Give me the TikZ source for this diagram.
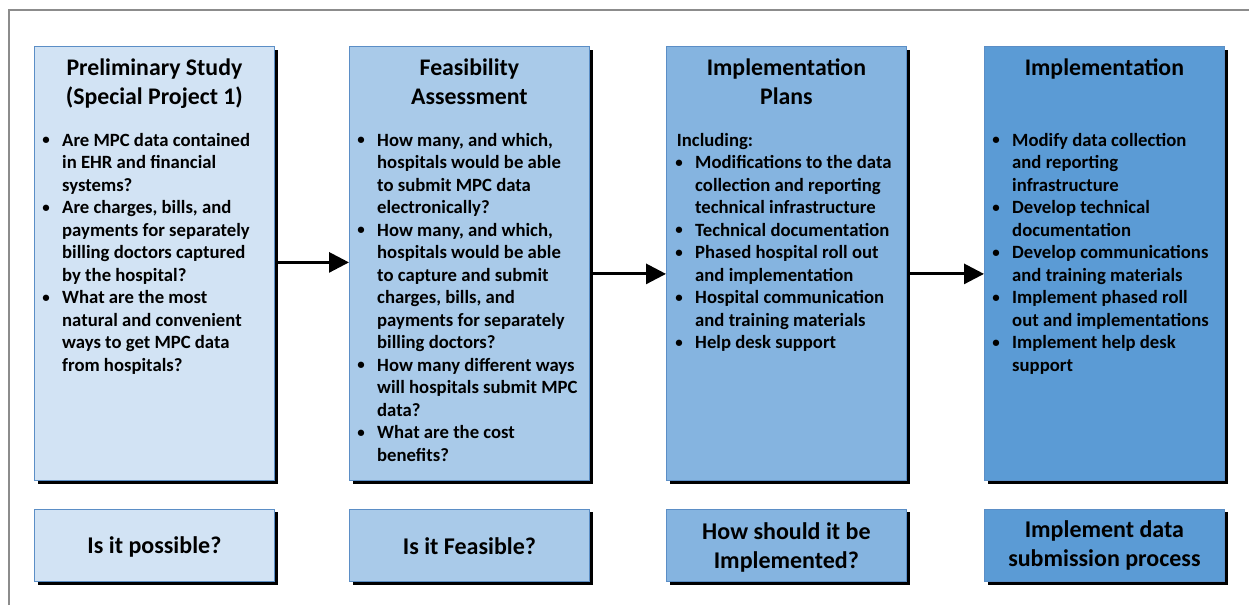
\documentclass[tikz,border=0pt]{standalone}
\usepackage{fontspec}
\usepackage{graphicx}
\setmainfont{Carlito}
\usetikzlibrary{arrows.meta,shadows,calc}

\definecolor{framegray}{HTML}{8C8C8C}
\definecolor{edgeblue}{HTML}{5B8EC6}
\definecolor{stageA}{HTML}{D2E3F4}
\definecolor{stageB}{HTML}{A9CAE9}
\definecolor{stageC}{HTML}{85B4E0}
\definecolor{stageD}{HTML}{5B9BD5}

\newlength\bulgap
\setlength\bulgap{16pt}
% bullet centred on the line start, text after a fixed gap
\newcommand\bl{\makebox[0pt]{\raisebox{1.2pt}{\scalebox{0.8}{\textbullet}}}\hspace*{\bulgap}}
\newcommand\ind{\hspace*{\bulgap}}

\tikzset{
  stagebox/.style={draw=edgeblue, line width=0.8pt, anchor=north west,
    minimum width=240pt, inner sep=0pt,
    drop shadow={shadow xshift=3.5pt, shadow yshift=-3.5pt, fill=black, opacity=1}},
  tallbox/.style={stagebox, minimum height=434pt},
  shortbox/.style={stagebox, minimum height=72.5pt},
  titletext/.style={anchor=base, inner sep=0pt, font=\bfseries\fontsize{23.8}{29}\selectfont},
  bodytext/.style={anchor=base west, inner sep=0pt, font=\bfseries\fontsize{18.7}{22.5}\selectfont},
  qtext/.style={inner sep=0pt, font=\bfseries\fontsize{24}{29.5}\selectfont},
  flow/.style={line width=3pt, -{Triangle[length=20pt,width=20pt]}},
}

\begin{document}
\begin{tikzpicture}[x=1pt,y=-1pt]
\useasboundingbox (0,0) rectangle (1249,605);

% outer frame (open on the right and bottom)
\draw[framegray, line width=2.5pt] (9,605) -- (9,10) -- (1249,10);

% stage boxes
\node[tallbox, fill=stageA] (s1) at (34,46) {};
\node[tallbox, fill=stageB] (s2) at (349,46) {};
\node[tallbox, fill=stageC] (s3) at (666,46) {};
\node[tallbox, fill=stageD] (s4) at (984,46) {};

% question boxes
\node[shortbox, fill=stageA] (q1) at (34,508.5) {};
\node[shortbox, fill=stageB] (q2) at (349,508.5) {};
\node[shortbox, fill=stageC] (q3) at (666,508.5) {};
\node[shortbox, fill=stageD] (q4) at (984,508.5) {};

% titles
\node[titletext] (t1) at ($(s1.north)+(0,29.5)$) {\begin{tabular}[t]{@{}c@{}}Preliminary Study\\(Special Project 1)\end{tabular}};
\node[titletext] (t2) at ($(s2.north)+(0,29.5)$) {\begin{tabular}[t]{@{}c@{}}Feasibility\\Assessment\end{tabular}};
\node[titletext] (t3) at ($(s3.north)+(0,29.5)$) {\begin{tabular}[t]{@{}c@{}}Implementation\\Plans\end{tabular}};
\node[titletext] (t4) at ($(s4.north)+(0,29.5)$) {\begin{tabular}[t]{@{}c@{}}Implementation\end{tabular}};

% bullet lists
\node[bodytext] (b1) at (46,146) {\begin{tabular}[t]{@{}l@{}}
\bl Are MPC data contained\\
\ind in EHR and financial\\
\ind systems?\\
\bl Are charges, bills, and\\
\ind payments for separately\\
\ind billing doctors captured\\
\ind by the hospital?\\
\bl What are the most\\
\ind natural and convenient\\
\ind ways to get MPC data\\
\ind from hospitals?
\end{tabular}};

\node[bodytext] (b2) at (361,146) {\begin{tabular}[t]{@{}l@{}}
\bl How many, and which,\\
\ind hospitals would be able\\
\ind to submit MPC data\\
\ind electronically?\\
\bl How many, and which,\\
\ind hospitals would be able\\
\ind to capture and submit\\
\ind charges, bills, and\\
\ind payments for separately\\
\ind billing doctors?\\
\bl How many different ways\\
\ind will hospitals submit MPC\\
\ind data?\\
\bl What are the cost\\
\ind benefits?
\end{tabular}};

\node[bodytext] (b3) at (679,146) {\begin{tabular}[t]{@{}l@{}}
\hspace*{-2.3pt}Including:\\
\bl Modifications to the data\\
\ind collection and reporting\\
\ind technical infrastructure\\
\bl Technical documentation\\
\bl Phased hospital roll out\\
\ind and implementation\\
\bl Hospital communication\\
\ind and training materials\\
\bl Help desk support
\end{tabular}};

\node[bodytext] (b4) at (996,146) {\begin{tabular}[t]{@{}l@{}}
\bl Modify data collection\\
\ind and reporting\\
\ind infrastructure\\
\bl Develop technical\\
\ind documentation\\
\bl Develop communications\\
\ind and training materials\\
\bl Implement phased roll\\
\ind out and implementations\\
\bl Implement help desk\\
\ind support
\end{tabular}};

% question texts
\node[qtext] (a1) at ($(q1.center)+(0,1.5)$) {Is it possible?};
\node[qtext] (a2) at ($(q2.center)+(0,1.5)$) {Is it Feasible?};
\node[qtext] (a3) at ($(q3.center)+(0,3)$) {\begin{tabular}{@{}c@{}}How should it be\\Implemented?\end{tabular}};
\node[qtext] (a4) at ($(q4.center)+(0,1)$) {\begin{tabular}{@{}c@{}}Implement data\\submission process\end{tabular}};

% flow arrows
\draw[flow] ($(s1.east)+(2,-1)$) -- ($(s2.west)+(0,-1)$);
\draw[flow] ($(s2.east)+(2,10.5)$) -- ($(s3.west)+(0,10.5)$);
\draw[flow] ($(s3.east)+(2,10.5)$) -- ($(s4.west)+(0,10.5)$);
\end{tikzpicture}
\end{document}
